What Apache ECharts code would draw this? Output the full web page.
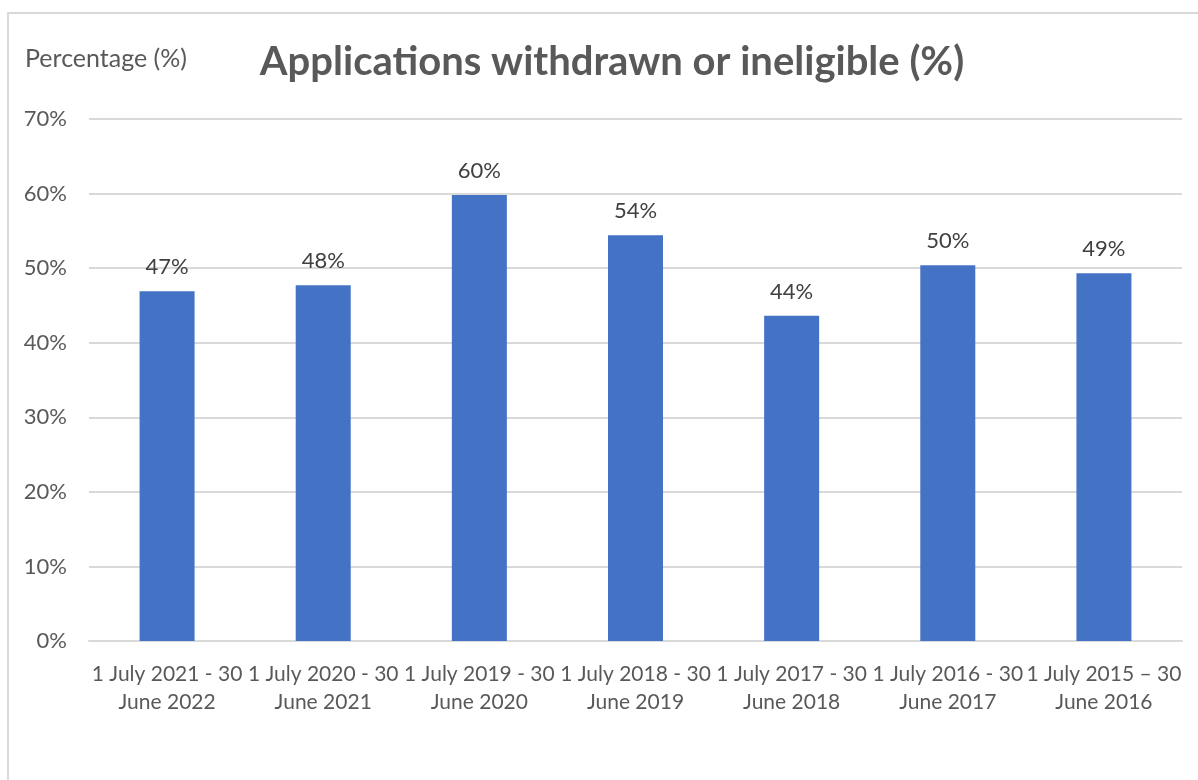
<!DOCTYPE html>
<html>
<head>
<meta charset="utf-8">
<script src="https://cdn.jsdelivr.net/npm/echarts@6/dist/echarts.min.js"></script>
<style>
  html, body { margin: 0; padding: 0; background: #ffffff; }
  #chart { width: 1198px; height: 780px; }
</style>
</head>
<body>
<div id="chart"></div>
<script>
// Reporting periods (financial years), newest first
const categories = [
  '1 July 2021 - 30\nJune 2022',
  '1 July 2020 - 30\nJune 2021',
  '1 July 2019 - 30\nJune 2020',
  '1 July 2018 - 30\nJune 2019',
  '1 July 2017 - 30\nJune 2018',
  '1 July 2016 - 30\nJune 2017',
  '1 July 2015 \u2013 30\nJune 2016'
];
// Share of applications withdrawn or ineligible (%)
const values = [46.9, 47.7, 59.8, 54.4, 43.6, 50.4, 49.3];
// Value axis range
const yMin = 0;
const yMax = 70;
const yStep = 10;

const FONT = 'Lato, "Open Sans", sans-serif';
const TEXT = '#595959';

const chart = echarts.init(document.getElementById('chart'), null, { renderer: 'canvas' });
chart.setOption({
  animation: false,
  backgroundColor: '#ffffff',
  graphic: [
    {
      type: 'rect',
      shape: { x: 8, y: 13, width: 1200, height: 800 },
      style: { fill: 'none', stroke: '#d9d9d9', lineWidth: 2 },
      z: -1
    },
    {
      type: 'text',
      left: 25,
      top: 46,
      style: {
        text: 'Percentage (%)',
        fontFamily: FONT,
        fontSize: 25,
        fill: TEXT
      }
    }
  ],
  title: {
    text: 'Applications withdrawn or ineligible (%)',
    left: 607,
    textAlign: 'center',
    top: 37,
    textStyle: { fontFamily: FONT, fontSize: 40, fontWeight: 'bold', color: TEXT }
  },
  grid: { left: 89, right: 16, top: 119, bottom: 139, containLabel: false },
  xAxis: {
    type: 'category',
    data: categories,
    axisLine: { show: true, lineStyle: { color: '#d9d9d9', width: 2 } },
    axisTick: { show: false },
    axisLabel: {
      interval: 0,
      margin: 19,
      fontFamily: FONT,
      fontSize: 21,
      lineHeight: 28,
      color: TEXT
    }
  },
  yAxis: {
    type: 'value',
    min: yMin,
    max: yMax,
    interval: yStep,
    axisLine: { show: false },
    axisTick: { show: false },
    splitLine: { lineStyle: { color: '#d9d9d9', width: 2 } },
    axisLabel: {
      margin: 22,
      fontFamily: FONT,
      fontSize: 22,
      color: TEXT,
      formatter: v => v + '%'
    }
  },
  series: [{
    type: 'bar',
    data: values,
    barWidth: 55,
    itemStyle: { color: '#4472c4' },
    label: {
      show: true,
      position: 'top',
      distance: 13,
      fontFamily: FONT,
      fontSize: 22,
      color: '#404040',
      formatter: p => Math.round(p.value) + '%'
    }
  }]
});
</script>
</body>
</html>
